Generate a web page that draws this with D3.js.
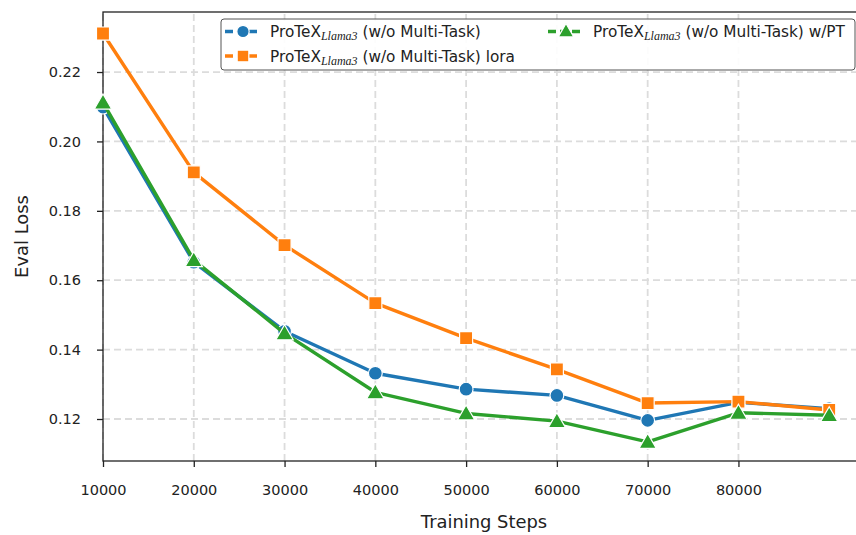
<!DOCTYPE html>
<html>
<head>
<meta charset="utf-8">
<script src="https://cdn.jsdelivr.net/npm/d3@7"></script>
<style>
  body { margin: 0; background: #fff; }
  text { font-family: "DejaVu Sans", sans-serif; fill: #222; }
</style>
</head>
<body>
<svg id="chart" width="856" height="535"></svg>
<script>
const steps = [10000, 20000, 30000, 40000, 50000, 60000, 70000, 80000, 90000];
const xTicks = [10000, 20000, 30000, 40000, 50000, 60000, 70000, 80000];
const yTicks = [0.12, 0.14, 0.16, 0.18, 0.20, 0.22];

const lossBase = [0.2099, 0.1652, 0.1453, 0.1332, 0.1286, 0.1268, 0.1196, 0.1248, 0.1230];
const lossLora = [0.2311, 0.1911, 0.1701, 0.1534, 0.1433, 0.1343, 0.1246, 0.1250, 0.1226];
const lossPT = [0.2112, 0.1658, 0.1447, 0.1277, 0.1216, 0.1194, 0.1134, 0.1218, 0.1211];

const seriesNames = ["(w/o Multi-Task)", "(w/o Multi-Task) lora", "(w/o Multi-Task) w/PT"];
const seriesColors = ["#1f77b4", "#ff7f0e", "#2ca02c"];
const seriesMarkers = ["circle", "square", "triangle"];

const series = [lossBase, lossLora, lossPT].map((vals, i) => ({
  name: seriesNames[i],
  color: seriesColors[i],
  marker: seriesMarkers[i],
  values: vals.map((v, j) => ({ x: steps[j], y: v }))
}));

const margin = { top: 12, right: 0, bottom: 74, left: 103 };
const W = 856, H = 535;

const svg = d3.select("#chart");

const x = d3.scaleLinear().domain([10000, 92950]).range([margin.left, W - margin.right]);
const y = d3.scaleLinear().domain([0.1079, 0.2373]).range([H - margin.bottom, margin.top]);

// grid
const grid = svg.append("g");
grid.selectAll(".vg").data(xTicks).enter().append("line")
  .attr("x1", d => x(d)).attr("x2", d => x(d))
  .attr("y1", y.range()[0]).attr("y2", y.range()[1])
  .attr("stroke", "#dcdcdc").attr("stroke-width", 1.8).attr("stroke-dasharray", "7,4");
grid.selectAll(".hg").data(yTicks).enter().append("line")
  .attr("x1", x.range()[0]).attr("x2", x.range()[1])
  .attr("y1", d => y(d)).attr("y2", d => y(d))
  .attr("stroke", "#dcdcdc").attr("stroke-width", 1.8).attr("stroke-dasharray", "7,4");

// axes
const xAxis = svg.append("g")
  .attr("transform", `translate(0,${H - margin.bottom})`)
  .call(d3.axisBottom(x).tickValues(xTicks).tickFormat(d3.format("d")).tickSize(6).tickPadding(18));
const yAxis = svg.append("g")
  .attr("transform", `translate(${margin.left},0)`)
  .call(d3.axisLeft(y).tickValues(yTicks).tickFormat(d3.format(".2f")).tickSize(6).tickPadding(16));
[xAxis, yAxis].forEach(a => {
  a.select(".domain").remove();
  a.selectAll("line").attr("stroke", "#222").attr("stroke-width", 1.3);
  a.selectAll("text").style("font-size", "14.5px").style("font-family", "DejaVu Sans, sans-serif").attr("fill", "#222");
});

// frame
svg.append("rect")
  .attr("x", margin.left).attr("y", margin.top)
  .attr("width", W - margin.left + 10).attr("height", H - margin.top - margin.bottom)
  .attr("fill", "none").attr("stroke", "#222").attr("stroke-width", 1.3);

// labels
svg.append("text").attr("x", 484).attr("y", 528)
  .attr("text-anchor", "middle").style("font-size", "17.9px").text("Training Steps");
svg.append("text").attr("transform", `translate(28,${(margin.top + H - margin.bottom) / 2}) rotate(-90)`)
  .attr("text-anchor", "middle").style("font-size", "17.9px").text("Eval Loss");

// lines
const line = d3.line().x(d => x(d.x)).y(d => y(d.y));
const symbolType = { circle: d3.symbolCircle, square: d3.symbolSquare, triangle: d3.symbolTriangle };
const symbolSize = { circle: 150, square: 170, triangle: 130 };

function drawMarker(g, m, color, scale) {
  g.append("path")
    .attr("d", d3.symbol().type(symbolType[m]).size(symbolSize[m] * scale)())
    .attr("fill", color).attr("stroke", "#fff").attr("stroke-width", 1.2);
}

series.forEach(s => {
  const g = svg.append("g");
  g.append("path").datum(s.values)
    .attr("d", line).attr("fill", "none")
    .attr("stroke", s.color).attr("stroke-width", 3.4).attr("stroke-linejoin", "round");
  s.values.forEach(p => {
    const mg = g.append("g").attr("transform", `translate(${x(p.x)},${y(p.y) + (s.marker === "triangle" ? 1.5 : 0)})`);
    drawMarker(mg, s.marker, s.color, 1);
  });
});

// legend
const legend = svg.append("g");
legend.append("rect").attr("x", 221).attr("y", 19).attr("width", 634).attr("height", 51)
  .attr("rx", 3).attr("fill", "#fff").attr("fill-opacity", 0.9)
  .attr("stroke", "#555").attr("stroke-width", 1);

const legendPos = [[225, 31.5], [225, 56], [548, 31.5]];
series.forEach((s, i) => {
  const [lx, ly] = legendPos[i];
  const lg = legend.append("g").attr("transform", `translate(${lx},${ly})`);
  lg.append("line").attr("x1", 0).attr("x2", 36).attr("y1", 0).attr("y2", 0)
    .attr("stroke", s.color).attr("stroke-width", 3.4).attr("stroke-dasharray", "8,4");
  const mg = lg.append("g").attr("transform", `translate(18,${s.marker === "triangle" ? 1 : 0})`);
  drawMarker(mg, s.marker, s.color, 0.8);
  const t = lg.append("text").attr("x", 45).attr("y", 5.5).style("font-size", "15.3px");
  t.append("tspan").text("ProTeX");
  t.append("tspan").attr("dy", 3).style("font-family", "Liberation Serif, serif")
    .style("font-style", "italic").style("font-size", "12px").text("Llama3");
  t.append("tspan").attr("dy", -3).text(" " + s.name);
});
</script>
</body>
</html>
